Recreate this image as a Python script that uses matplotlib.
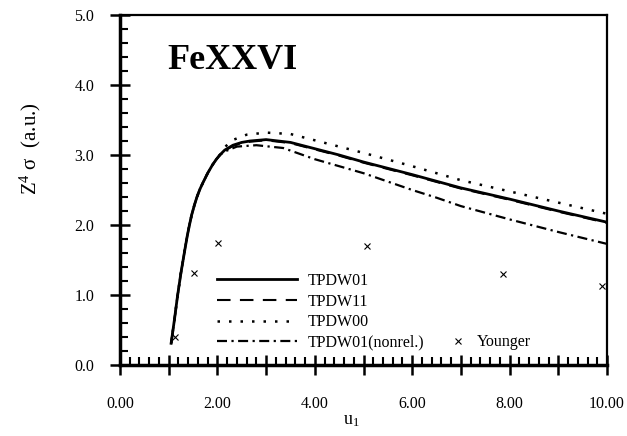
import numpy as np
import matplotlib
matplotlib.use('Agg')
import matplotlib.pyplot as plt
from matplotlib.ticker import MultipleLocator, FuncFormatter

plt.rcParams['font.family'] = ['Liberation Serif', 'DejaVu Serif']
plt.rcParams['mathtext.default'] = 'regular'

# Incident energy u_1 and scaled cross sections
u_rise = [1.05, 1.12, 1.18, 1.25, 1.33, 1.38, 1.42, 1.47, 1.53, 1.58, 1.64,
          1.70, 1.75, 1.80, 1.85, 1.90, 1.98, 2.05]
s_rise = [0.31, 0.66, 0.98, 1.31, 1.64, 1.84, 1.98, 2.14, 2.29, 2.40, 2.51,
          2.60, 2.67, 2.74, 2.80, 2.86, 2.94, 3.00]

u_tpdw01 = u_rise + [2.15, 2.32, 2.50, 2.67, 3.00, 3.50, 4.00, 4.50, 5.00,
                     6.00, 7.00, 8.00, 9.00, 10.00]
s_tpdw01 = s_rise + [3.07, 3.14, 3.18, 3.20, 3.22, 3.18, 3.09, 3.00, 2.90,
                     2.72, 2.53, 2.37, 2.20, 2.04]

u_tpdw11 = u_tpdw01
s_tpdw11 = s_rise + [3.06, 3.13, 3.17, 3.19, 3.21, 3.17, 3.08, 2.99, 2.89,
                     2.71, 2.52, 2.36, 2.19, 2.03]

u_tpdw00 = u_rise + [2.15, 2.30, 2.60, 3.00, 3.50, 4.00, 4.50, 5.00,
                     6.00, 7.00, 8.00, 9.00, 10.00]
s_tpdw00 = s_rise + [3.11, 3.21, 3.29, 3.32, 3.30, 3.21, 3.12, 3.03,
                     2.84, 2.64, 2.48, 2.32, 2.16]

u_nonrel = u_rise + [2.15, 2.40, 2.80, 3.35, 4.00, 4.50, 5.00,
                     6.00, 6.50, 7.00, 8.00, 9.00, 10.00]
s_nonrel = s_rise + [3.05, 3.12, 3.14, 3.10, 2.94, 2.84, 2.74,
                     2.50, 2.39, 2.27, 2.08, 1.90, 1.73]

u_younger = [1.12, 1.51, 2.01, 5.08, 7.86, 9.89]
s_younger = [0.40, 1.32, 1.74, 1.70, 1.30, 1.13]


def main():
    fig = plt.figure(figsize=(6.27, 4.36), dpi=100)
    ax = fig.add_axes([120 / 627, 71 / 436, 487 / 627, 350 / 436])

    ax.plot(u_tpdw11, s_tpdw11, color='black', lw=1.5, dashes=(6.5, 4.5),
            label='TPDW11')
    ax.plot(u_tpdw00, s_tpdw00, color='black', lw=1.8, dashes=(1.0, 3.6),
            label='TPDW00')
    ax.plot(u_nonrel, s_nonrel, color='black', lw=1.6,
            dashes=(4.5, 2.0, 1.0, 2.0), label='TPDW01(nonrel.)')
    ax.plot(u_tpdw01, s_tpdw01, color='black', lw=2.0, label='TPDW01',
            zorder=5)
    pts, = ax.plot(u_younger, s_younger, 'x', color='black', ms=5, mew=0.8)

    ax.set_xlim(0, 10)
    ax.set_ylim(0, 5)

    ax.xaxis.set_major_locator(MultipleLocator(1.0))
    ax.xaxis.set_minor_locator(MultipleLocator(0.2))
    ax.yaxis.set_major_locator(MultipleLocator(1.0))
    ax.yaxis.set_minor_locator(MultipleLocator(0.2))
    ax.xaxis.set_major_formatter(
        FuncFormatter(lambda v, p: '%.2f' % v if round(v) % 2 == 0 else ''))
    ax.yaxis.set_major_formatter(FuncFormatter(lambda v, p: '%.1f' % v))

    ax.tick_params(which='major', direction='inout', length=14, width=1.8,
                   labelsize=11.5, top=False, right=False)
    ax.tick_params(axis='x', which='major', pad=15.5)
    ax.tick_params(axis='y', which='major', pad=11.5)
    ax.tick_params(which='minor', direction='in', length=6, width=1.5,
                   top=False, right=False)

    for side in ['left', 'bottom']:
        ax.spines[side].set_linewidth(2.5)
    for side in ['top', 'right']:
        ax.spines[side].set_linewidth(1.6)

    ax.set_xlabel('u$_1$', fontsize=13)
    ax.xaxis.set_label_coords(0.476, -0.135)
    ax.set_ylabel('Z$^4$ σ  (a.u.)', fontsize=15)
    ax.yaxis.set_label_coords(-0.158, 0.617)

    ax.text(0.0965, 0.846, 'FeXXVI', transform=ax.transAxes, fontsize=26,
            fontweight='bold', va='baseline', ha='left')

    handles, labels = ax.get_legend_handles_labels()
    order = ['TPDW01', 'TPDW11', 'TPDW00', 'TPDW01(nonrel.)']
    hl = dict(zip(labels, handles))
    leg = ax.legend([hl[k] for k in order], order, loc='upper left',
                    bbox_to_anchor=(0.199, 0.263), frameon=False,
                    fontsize=11.5, handlelength=5.0, handletextpad=0.7,
                    labelspacing=0.29, borderpad=0, borderaxespad=0)
    ax.add_artist(leg)
    ax.legend([pts], ['Younger'], loc='upper left',
              bbox_to_anchor=(0.678, 0.088), frameon=False, fontsize=11.5,
              handlelength=1.0, handletextpad=0.7, borderpad=0,
              borderaxespad=0)

    fig.savefig('out.png', dpi=100)


if __name__ == "__main__":
    main()
